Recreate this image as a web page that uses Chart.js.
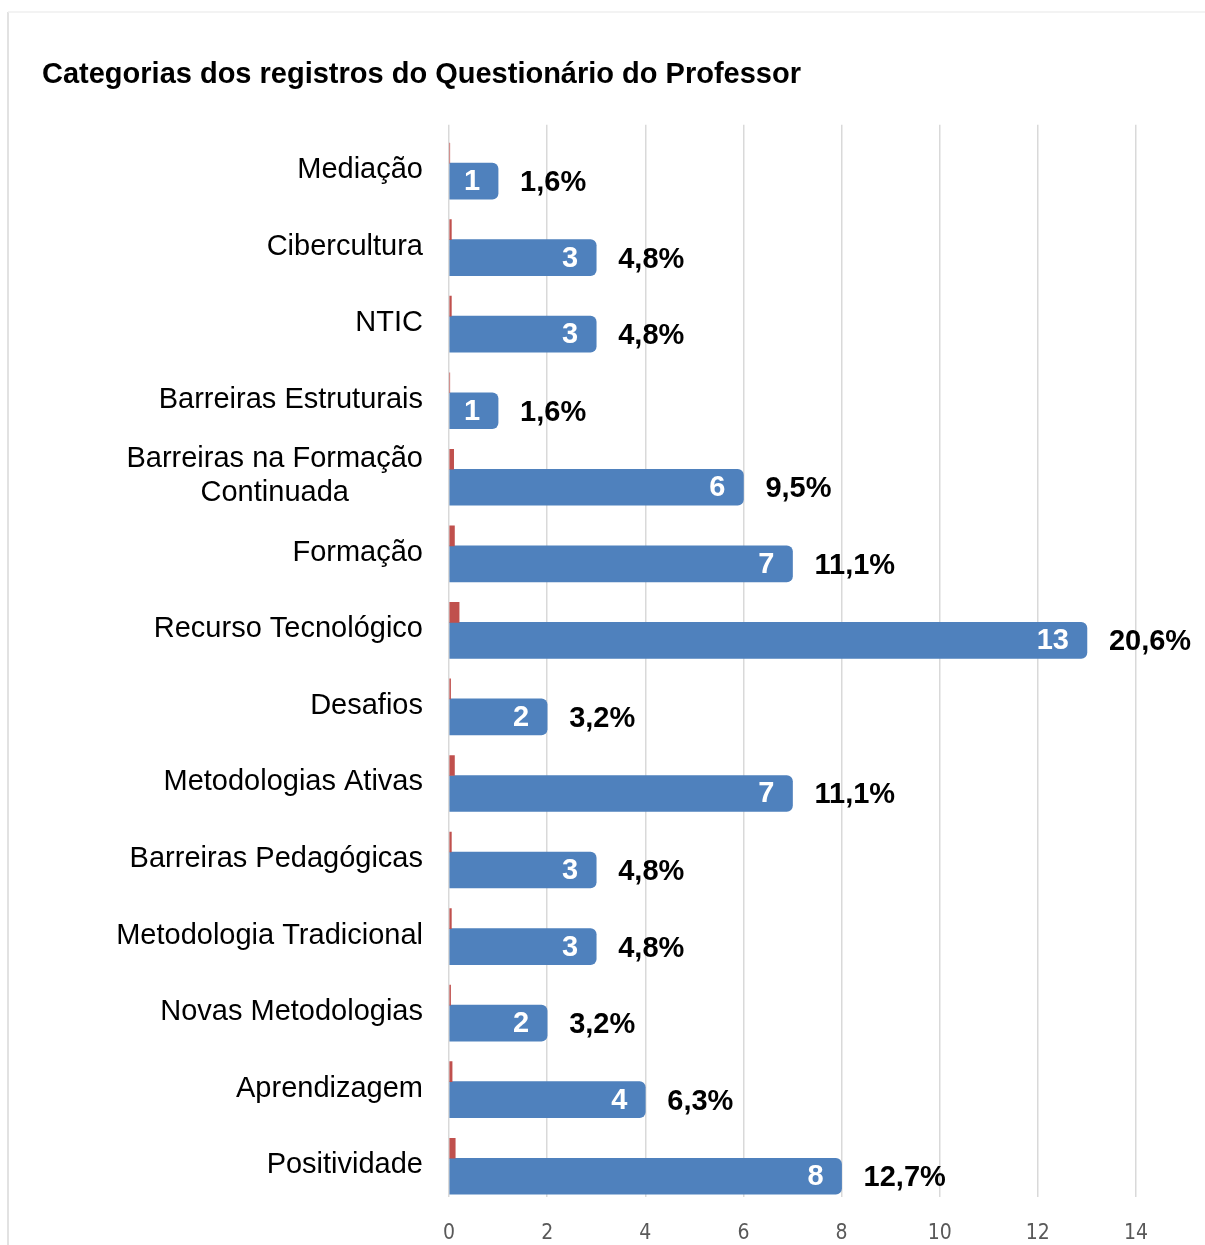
<!DOCTYPE html>
<html>
<head>
<meta charset="utf-8">
<script src="https://cdn.jsdelivr.net/npm/chart.js@4.4.1/dist/chart.umd.min.js"></script>
<style>
  body { margin: 0; background: #fff; }
  #wrap { position: relative; width: 1205px; height: 1245px; }
</style>
</head>
<body>
<div id="wrap">
  <canvas id="barChart" width="1205" height="1245"></canvas>
</div>
<script>
const categories = [
  'Mediação', 'Cibercultura', 'NTIC', 'Barreiras Estruturais',
  ['Barreiras na Formação', 'Continuada'], 'Formação', 'Recurso Tecnológico',
  'Desafios', 'Metodologias Ativas', 'Barreiras Pedagógicas',
  'Metodologia Tradicional', 'Novas Metodologias', 'Aprendizagem', 'Positividade'
];
const counts = [1, 3, 3, 1, 6, 7, 13, 2, 7, 3, 3, 2, 4, 8];
const percents = [1.6, 4.8, 4.8, 1.6, 9.5, 11.1, 20.6, 3.2, 11.1, 4.8, 4.8, 3.2, 6.3, 12.7];
const xTicks = [0, 2, 4, 6, 8, 10, 12, 14];

const BLUE = '#4F81BD';
const RED = '#C0504D';
const FONT = '"Liberation Sans", Arial, sans-serif';

// red series is the share as fraction, so it barely shows next to the counts
const shares = percents.map(p => p / 100);

const fmtPct = v => v.toFixed(1).replace('.', ',') + '%';

// light frame around the chart + category labels + data labels
const decorations = {
  id: 'decorations',
  beforeDraw(chart) {
    const ctx = chart.ctx;
    ctx.save();
    ctx.strokeStyle = '#d9d9d9';
    ctx.lineWidth = 1.5;
    ctx.beginPath();
    ctx.moveTo(8, 1245);
    ctx.lineTo(8, 12);
    ctx.stroke();
    ctx.strokeStyle = '#efefef';
    ctx.beginPath();
    ctx.moveTo(8, 12);
    ctx.lineTo(1205, 12);
    ctx.stroke();
    ctx.restore();
  },
  afterDatasetsDraw(chart) {
    const ctx = chart.ctx;
    const blueMeta = chart.getDatasetMeta(1);
    ctx.save();
    blueMeta.data.forEach((bar, i) => {
      // category label, right aligned, multi line block centred
      const lab = categories[i];
      const lines = Array.isArray(lab) ? lab : [lab];
      ctx.font = '29px ' + FONT;
      ctx.fillStyle = '#000';
      ctx.textBaseline = 'middle';
      const right = 423;
      const lh = 34;
      const cy = bar.y - 11;
      if (lines.length === 1) {
        ctx.textAlign = 'right';
        ctx.fillText(lines[0], right, cy);
      } else {
        const w = Math.max(...lines.map(l => ctx.measureText(l).width));
        ctx.textAlign = 'center';
        lines.forEach((l, k) => {
          ctx.fillText(l, right - w / 2, cy + (k - (lines.length - 1) / 2) * lh);
        });
      }

      // count inside the bar end
      ctx.font = 'bold 29px ' + FONT;
      ctx.fillStyle = '#fff';
      ctx.textAlign = 'right';
      ctx.fillText(String(counts[i]), bar.x - 18, bar.y + 1);

      // percentage after the bar
      ctx.fillStyle = '#000';
      ctx.textAlign = 'left';
      ctx.fillText(fmtPct(percents[i]), bar.x + 22, bar.y + 2);
    });
    ctx.restore();
  }
};

const ctx = document.getElementById('barChart').getContext('2d');
new Chart(ctx, {
  type: 'bar',
  data: {
    labels: categories,
    datasets: [
      {
        label: '%',
        data: shares,
        backgroundColor: RED,
        barThickness: 20
      },
      {
        label: 'Registros',
        data: counts,
        backgroundColor: BLUE,
        barThickness: 36,
        borderRadius: 6,
        borderSkipped: 'start'
      }
    ]
  },
  options: {
    indexAxis: 'y',
    responsive: false,
    animation: false,
    devicePixelRatio: 1,
    layout: { padding: { top: 20, left: 42, right: 69, bottom: 0 } },
    plugins: {
      legend: { display: false },
      tooltip: { enabled: false },
      title: {
        display: true,
        text: 'Categorias dos registros do Questionário do Professor',
        align: 'start',
        color: '#000',
        font: { family: FONT, size: 29, weight: 'bold', lineHeight: 1.2 },
        padding: { top: 38, bottom: 32 }
      }
    },
    scales: {
      x: {
        min: 0,
        max: 14,
        afterBuildTicks: axis => { axis.ticks = xTicks.map(v => ({ value: v })); },
        afterFit: axis => { axis.height = 48.5; },
        grid: { color: '#d9d9d9', lineWidth: 1.5, drawTicks: false },
        border: { display: false },
        ticks: {
          padding: 24,
          color: '#595959',
          font: { family: '"Liberation Sans Narrow", "DejaVu Sans Condensed", sans-serif', size: 21 }
        }
      },
      y: {
        grid: { display: false },
        border: { display: false },
        ticks: { display: false },
        afterFit: axis => { axis.width = 449 - 42; }
      }
    }
  },
  plugins: [decorations]
});
</script>
</body>
</html>
